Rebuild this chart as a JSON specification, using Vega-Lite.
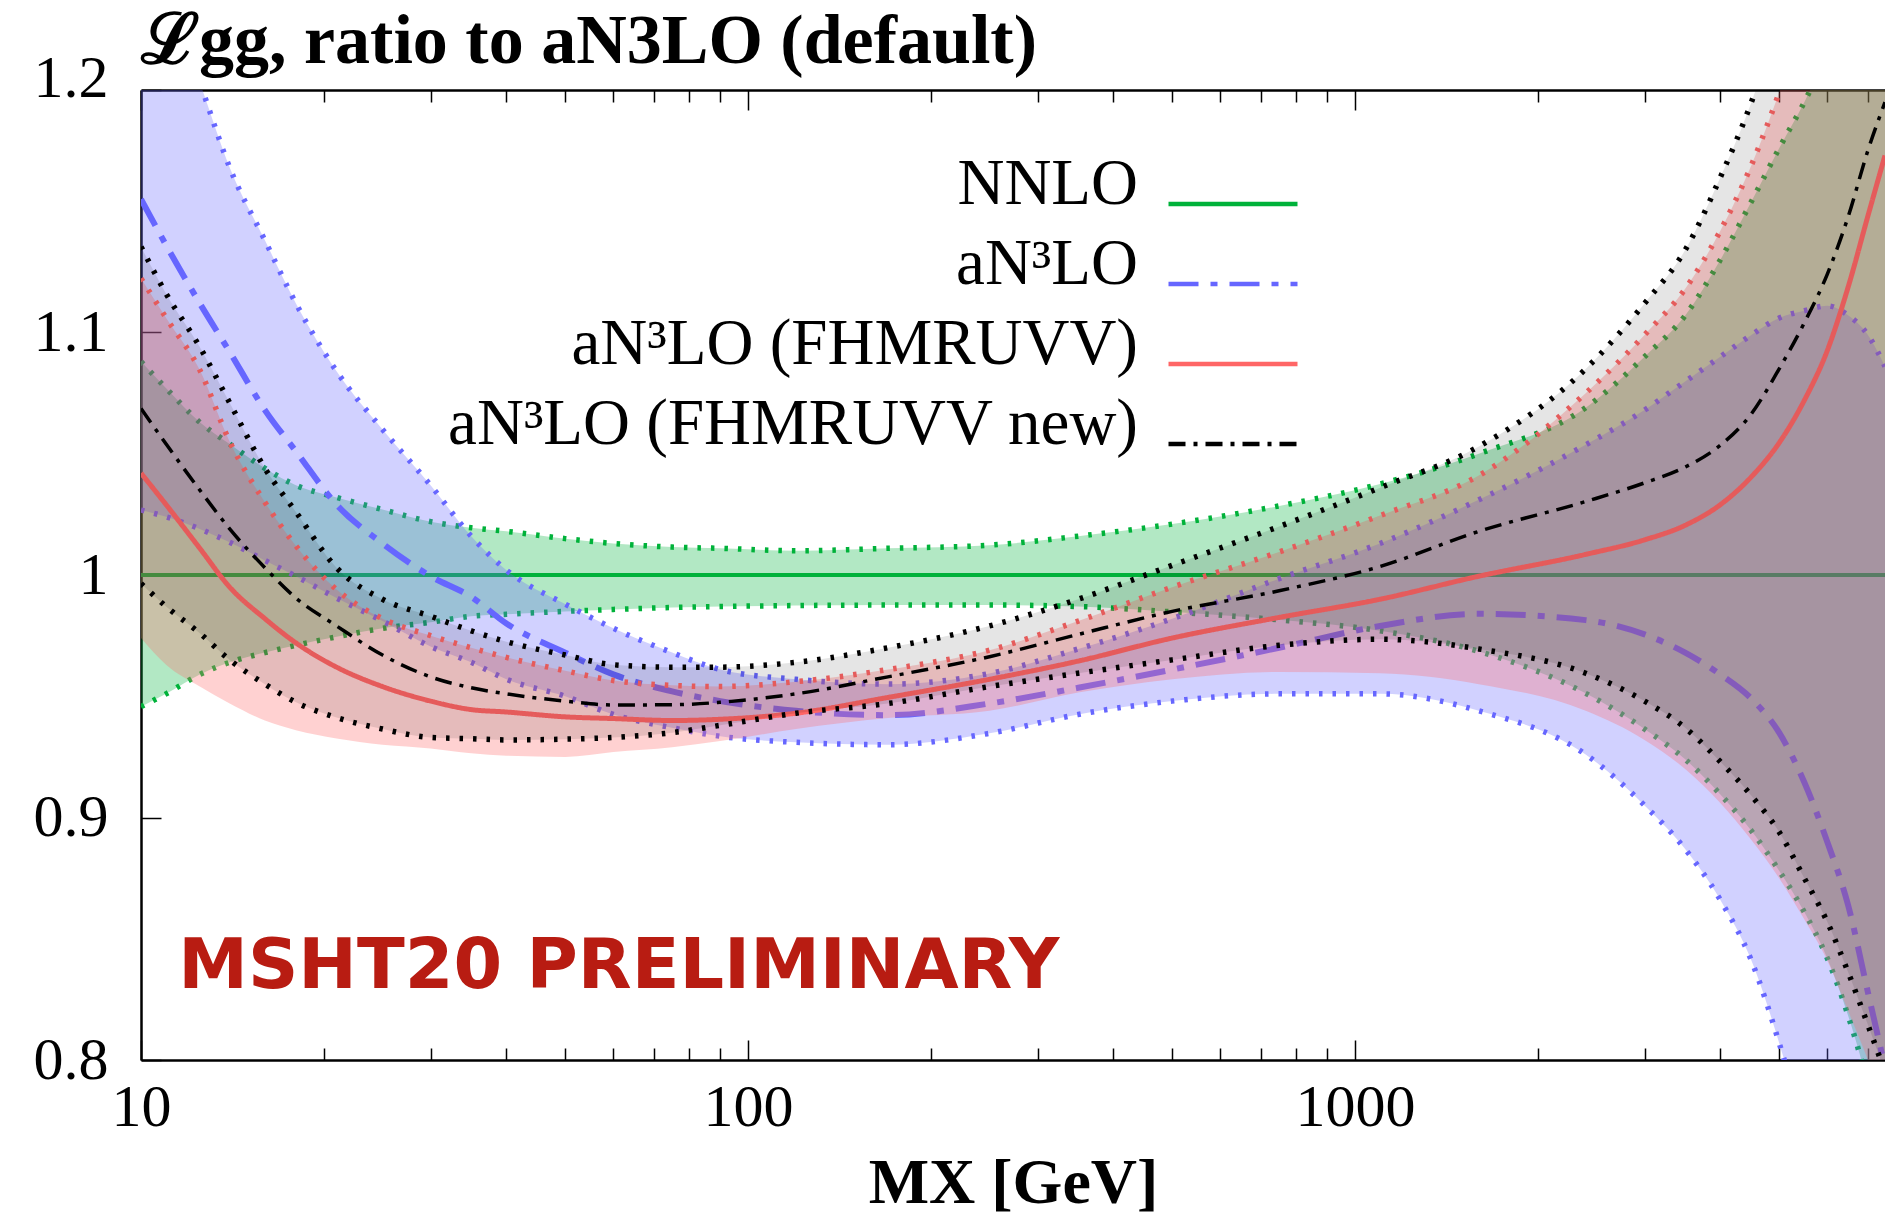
{
  "$schema": "https://vega.github.io/schema/vega-lite/v6.json",
  "autosize": {"type": "none"},
  "padding": {"left": 141, "top": 90, "right": 0, "bottom": 156},
  "width": 1744,
  "height": 970,
  "background": "white",
  "title": {"text": "ℒgg, ratio to aN3LO (default)", "anchor": "start", "frame": "group", "font": "Liberation Serif", "fontSize": 70, "fontWeight": "bold", "color": "black", "baseline": "alphabetic", "offset": -85},
  "config": {"view": {"stroke": null}, "axis": {"grid": false}},
  "datasets": {
    "d": [
      {"s":"NNLO","M":10,"c":1,"hi":1.088,"lo":0.9457},
      {"s":"NNLO","M":11,"c":1,"hi":1.077,"lo":0.951},
      {"s":"NNLO","M":12.5,"c":1,"hi":1.063,"lo":0.959},
      {"s":"NNLO","M":14,"c":1,"hi":1.054,"lo":0.964},
      {"s":"NNLO","M":16,"c":1,"hi":1.044,"lo":0.968},
      {"s":"NNLO","M":18,"c":1,"hi":1.037,"lo":0.971},
      {"s":"NNLO","M":21,"c":1,"hi":1.032,"lo":0.9745},
      {"s":"NNLO","M":25,"c":1,"hi":1.027,"lo":0.978},
      {"s":"NNLO","M":30,"c":1,"hi":1.022,"lo":0.9805},
      {"s":"NNLO","M":35,"c":1,"hi":1.0195,"lo":0.983},
      {"s":"NNLO","M":40,"c":1,"hi":1.018,"lo":0.9838},
      {"s":"NNLO","M":50,"c":1,"hi":1.015,"lo":0.985},
      {"s":"NNLO","M":60,"c":1,"hi":1.013,"lo":0.9858},
      {"s":"NNLO","M":75,"c":1,"hi":1.0115,"lo":0.9866},
      {"s":"NNLO","M":90,"c":1,"hi":1.011,"lo":0.987},
      {"s":"NNLO","M":120,"c":1,"hi":1.010,"lo":0.9874},
      {"s":"NNLO","M":170,"c":1,"hi":1.011,"lo":0.9876},
      {"s":"NNLO","M":250,"c":1,"hi":1.0123,"lo":0.9876},
      {"s":"NNLO","M":350,"c":1,"hi":1.016,"lo":0.987},
      {"s":"NNLO","M":500,"c":1,"hi":1.021,"lo":0.9848},
      {"s":"NNLO","M":750,"c":1,"hi":1.0285,"lo":0.9815},
      {"s":"NNLO","M":1100,"c":1,"hi":1.0375,"lo":0.977},
      {"s":"NNLO","M":1600,"c":1,"hi":1.050,"lo":0.9685},
      {"s":"NNLO","M":2400,"c":1,"hi":1.069,"lo":0.9512},
      {"s":"NNLO","M":3000,"c":1,"hi":1.090,"lo":0.9365},
      {"s":"NNLO","M":3500,"c":1,"hi":1.107,"lo":0.924},
      {"s":"NNLO","M":4000,"c":1,"hi":1.130,"lo":0.9095},
      {"s":"NNLO","M":4500,"c":1,"hi":1.154,"lo":0.8945},
      {"s":"NNLO","M":5000,"c":1,"hi":1.176,"lo":0.878},
      {"s":"NNLO","M":5500,"c":1,"hi":1.195,"lo":0.861},
      {"s":"NNLO","M":6000,"c":1,"hi":1.215,"lo":0.842},
      {"s":"NNLO","M":6500,"c":1,"hi":1.235,"lo":0.818},
      {"s":"NNLO","M":7000,"c":1,"hi":1.255,"lo":0.79},
      {"s":"NNLO","M":7470,"c":1,"hi":1.275,"lo":0.76},

      {"s":"aN³LO","M":10,"c":1.155,"hi":1.27,"lo":1.0268},
      {"s":"aN³LO","M":11,"c":1.136,"hi":1.24,"lo":1.024},
      {"s":"aN³LO","M":12.5,"c":1.112,"hi":1.203,"lo":1.019},
      {"s":"aN³LO","M":14,"c":1.092,"hi":1.168,"lo":1.0135},
      {"s":"aN³LO","M":16,"c":1.068,"hi":1.138,"lo":1.006},
      {"s":"aN³LO","M":18,"c":1.051,"hi":1.112,"lo":0.9995},
      {"s":"aN³LO","M":21,"c":1.029,"hi":1.084,"lo":0.9905},
      {"s":"aN³LO","M":25,"c":1.013,"hi":1.060,"lo":0.981},
      {"s":"aN³LO","M":30,"c":0.9995,"hi":1.037,"lo":0.9705},
      {"s":"aN³LO","M":35,"c":0.991,"hi":1.016,"lo":0.964},
      {"s":"aN³LO","M":40,"c":0.980,"hi":1.002,"lo":0.957},
      {"s":"aN³LO","M":50,"c":0.968,"hi":0.988,"lo":0.950},
      {"s":"aN³LO","M":60,"c":0.959,"hi":0.978,"lo":0.9425},
      {"s":"aN³LO","M":75,"c":0.952,"hi":0.968,"lo":0.937},
      {"s":"aN³LO","M":90,"c":0.948,"hi":0.961,"lo":0.9335},
      {"s":"aN³LO","M":120,"c":0.944,"hi":0.957,"lo":0.931},
      {"s":"aN³LO","M":170,"c":0.9422,"hi":0.955,"lo":0.930},
      {"s":"aN³LO","M":250,"c":0.947,"hi":0.9594,"lo":0.9347},
      {"s":"aN³LO","M":350,"c":0.9535,"hi":0.9695,"lo":0.9425},
      {"s":"aN³LO","M":500,"c":0.961,"hi":0.982,"lo":0.948},
      {"s":"aN³LO","M":750,"c":0.970,"hi":0.9985,"lo":0.951},
      {"s":"aN³LO","M":1100,"c":0.979,"hi":1.013,"lo":0.951},
      {"s":"aN³LO","M":1600,"c":0.984,"hi":1.031,"lo":0.944},
      {"s":"aN³LO","M":2400,"c":0.9814,"hi":1.0537,"lo":0.926},
      {"s":"aN³LO","M":3000,"c":0.9755,"hi":1.068,"lo":0.905},
      {"s":"aN³LO","M":3500,"c":0.968,"hi":1.0798,"lo":0.887},
      {"s":"aN³LO","M":4000,"c":0.959,"hi":1.090,"lo":0.866},
      {"s":"aN³LO","M":4500,"c":0.949,"hi":1.099,"lo":0.841},
      {"s":"aN³LO","M":5000,"c":0.935,"hi":1.106,"lo":0.807},
      {"s":"aN³LO","M":5500,"c":0.9145,"hi":1.109,"lo":0.77},
      {"s":"aN³LO","M":6000,"c":0.890,"hi":1.111,"lo":0.73},
      {"s":"aN³LO","M":6500,"c":0.8635,"hi":1.107,"lo":0.69},
      {"s":"aN³LO","M":7000,"c":0.828,"hi":1.099,"lo":0.65},
      {"s":"aN³LO","M":7470,"c":0.797,"hi":1.086,"lo":0.61},

      {"s":"aN³LO (FHMRUVV)","M":10,"c":1.042,"hi":1.1223,"lo":0.974},
      {"s":"aN³LO (FHMRUVV)","M":11,"c":1.029,"hi":1.106,"lo":0.963},
      {"s":"aN³LO (FHMRUVV)","M":12.5,"c":1.011,"hi":1.0845,"lo":0.954},
      {"s":"aN³LO (FHMRUVV)","M":14,"c":0.995,"hi":1.055,"lo":0.947},
      {"s":"aN³LO (FHMRUVV)","M":16,"c":0.982,"hi":1.030,"lo":0.940},
      {"s":"aN³LO (FHMRUVV)","M":18,"c":0.972,"hi":1.012,"lo":0.936},
      {"s":"aN³LO (FHMRUVV)","M":21,"c":0.962,"hi":0.994,"lo":0.9326},
      {"s":"aN³LO (FHMRUVV)","M":25,"c":0.954,"hi":0.982,"lo":0.930},
      {"s":"aN³LO (FHMRUVV)","M":30,"c":0.948,"hi":0.975,"lo":0.9285},
      {"s":"aN³LO (FHMRUVV)","M":35,"c":0.9445,"hi":0.970,"lo":0.9265},
      {"s":"aN³LO (FHMRUVV)","M":40,"c":0.9435,"hi":0.966,"lo":0.9255},
      {"s":"aN³LO (FHMRUVV)","M":50,"c":0.9415,"hi":0.9605,"lo":0.925},
      {"s":"aN³LO (FHMRUVV)","M":60,"c":0.9408,"hi":0.9565,"lo":0.927},
      {"s":"aN³LO (FHMRUVV)","M":75,"c":0.940,"hi":0.9545,"lo":0.929},
      {"s":"aN³LO (FHMRUVV)","M":90,"c":0.9405,"hi":0.954,"lo":0.9315},
      {"s":"aN³LO (FHMRUVV)","M":120,"c":0.943,"hi":0.956,"lo":0.9365},
      {"s":"aN³LO (FHMRUVV)","M":170,"c":0.9495,"hi":0.961,"lo":0.941},
      {"s":"aN³LO (FHMRUVV)","M":250,"c":0.957,"hi":0.969,"lo":0.944},
      {"s":"aN³LO (FHMRUVV)","M":350,"c":0.9645,"hi":0.981,"lo":0.9515},
      {"s":"aN³LO (FHMRUVV)","M":500,"c":0.974,"hi":0.995,"lo":0.957},
      {"s":"aN³LO (FHMRUVV)","M":750,"c":0.9825,"hi":1.0095,"lo":0.960},
      {"s":"aN³LO (FHMRUVV)","M":1100,"c":0.990,"hi":1.0245,"lo":0.9595},
      {"s":"aN³LO (FHMRUVV)","M":1600,"c":0.9995,"hi":1.041,"lo":0.955},
      {"s":"aN³LO (FHMRUVV)","M":2400,"c":1.0085,"hi":1.075,"lo":0.944},
      {"s":"aN³LO (FHMRUVV)","M":3000,"c":1.0145,"hi":1.099,"lo":0.932},
      {"s":"aN³LO (FHMRUVV)","M":3500,"c":1.0205,"hi":1.118,"lo":0.920},
      {"s":"aN³LO (FHMRUVV)","M":4000,"c":1.029,"hi":1.142,"lo":0.906},
      {"s":"aN³LO (FHMRUVV)","M":4500,"c":1.0405,"hi":1.169,"lo":0.8907},
      {"s":"aN³LO (FHMRUVV)","M":5000,"c":1.0545,"hi":1.199,"lo":0.875},
      {"s":"aN³LO (FHMRUVV)","M":5500,"c":1.072,"hi":1.23,"lo":0.858},
      {"s":"aN³LO (FHMRUVV)","M":6000,"c":1.0925,"hi":1.265,"lo":0.841},
      {"s":"aN³LO (FHMRUVV)","M":6500,"c":1.119,"hi":1.30,"lo":0.82},
      {"s":"aN³LO (FHMRUVV)","M":7000,"c":1.148,"hi":1.34,"lo":0.80},
      {"s":"aN³LO (FHMRUVV)","M":7470,"c":1.173,"hi":1.38,"lo":0.78},

      {"s":"aN³LO (FHMRUVV new)","M":10,"c":1.0687,"hi":1.1354,"lo":0.9965},
      {"s":"aN³LO (FHMRUVV new)","M":11,"c":1.054,"hi":1.116,"lo":0.987},
      {"s":"aN³LO (FHMRUVV new)","M":12.5,"c":1.035,"hi":1.094,"lo":0.976},
      {"s":"aN³LO (FHMRUVV new)","M":14,"c":1.019,"hi":1.071,"lo":0.965},
      {"s":"aN³LO (FHMRUVV new)","M":16,"c":1.003,"hi":1.044,"lo":0.955},
      {"s":"aN³LO (FHMRUVV new)","M":18,"c":0.9905,"hi":1.026,"lo":0.9475},
      {"s":"aN³LO (FHMRUVV new)","M":21,"c":0.979,"hi":1.003,"lo":0.9412},
      {"s":"aN³LO (FHMRUVV new)","M":25,"c":0.967,"hi":0.990,"lo":0.9365},
      {"s":"aN³LO (FHMRUVV new)","M":30,"c":0.958,"hi":0.983,"lo":0.933},
      {"s":"aN³LO (FHMRUVV new)","M":35,"c":0.9535,"hi":0.977,"lo":0.9325},
      {"s":"aN³LO (FHMRUVV new)","M":40,"c":0.951,"hi":0.9725,"lo":0.932},
      {"s":"aN³LO (FHMRUVV new)","M":50,"c":0.948,"hi":0.967,"lo":0.9323},
      {"s":"aN³LO (FHMRUVV new)","M":60,"c":0.9464,"hi":0.963,"lo":0.933},
      {"s":"aN³LO (FHMRUVV new)","M":75,"c":0.9465,"hi":0.962,"lo":0.935},
      {"s":"aN³LO (FHMRUVV new)","M":90,"c":0.9475,"hi":0.962,"lo":0.938},
      {"s":"aN³LO (FHMRUVV new)","M":120,"c":0.951,"hi":0.964,"lo":0.943},
      {"s":"aN³LO (FHMRUVV new)","M":170,"c":0.958,"hi":0.970,"lo":0.947},
      {"s":"aN³LO (FHMRUVV new)","M":250,"c":0.9663,"hi":0.979,"lo":0.954},
      {"s":"aN³LO (FHMRUVV new)","M":350,"c":0.9755,"hi":0.990,"lo":0.9595},
      {"s":"aN³LO (FHMRUVV new)","M":500,"c":0.985,"hi":1.004,"lo":0.965},
      {"s":"aN³LO (FHMRUVV new)","M":750,"c":0.9935,"hi":1.020,"lo":0.971},
      {"s":"aN³LO (FHMRUVV new)","M":1100,"c":1.0035,"hi":1.036,"lo":0.9735},
      {"s":"aN³LO (FHMRUVV new)","M":1600,"c":1.018,"hi":1.053,"lo":0.9695},
      {"s":"aN³LO (FHMRUVV new)","M":2400,"c":1.0303,"hi":1.085,"lo":0.9595},
      {"s":"aN³LO (FHMRUVV new)","M":3000,"c":1.038,"hi":1.112,"lo":0.948},
      {"s":"aN³LO (FHMRUVV new)","M":3500,"c":1.0445,"hi":1.134,"lo":0.937},
      {"s":"aN³LO (FHMRUVV new)","M":4000,"c":1.0535,"hi":1.164,"lo":0.923},
      {"s":"aN³LO (FHMRUVV new)","M":4500,"c":1.0665,"hi":1.195,"lo":0.909},
      {"s":"aN³LO (FHMRUVV new)","M":5000,"c":1.085,"hi":1.23,"lo":0.894},
      {"s":"aN³LO (FHMRUVV new)","M":5500,"c":1.104,"hi":1.27,"lo":0.875},
      {"s":"aN³LO (FHMRUVV new)","M":6000,"c":1.124,"hi":1.31,"lo":0.857},
      {"s":"aN³LO (FHMRUVV new)","M":6500,"c":1.148,"hi":1.35,"lo":0.836},
      {"s":"aN³LO (FHMRUVV new)","M":7000,"c":1.175,"hi":1.39,"lo":0.8145},
      {"s":"aN³LO (FHMRUVV new)","M":7470,"c":1.195,"hi":1.43,"lo":0.795}
    ],
    "ann": [{"M": 11.52, "v": 0.8297, "t": "MSHT20 PRELIMINARY"}]
  },
  "data": {"name": "d"},
  "encoding": {
    "x": {"field": "M", "type": "quantitative", "scale": {"type": "log", "domain": [10, 7470], "nice": false}, "axis": null}
  },
  "layer": [
    {
      "transform": [{"filter": "datum.s == 'NNLO'"}],
      "mark": {"type": "area", "color": "#00b23a", "fillOpacity": 0.3, "clip": true, "interpolate": "monotone"},
      "encoding": {
        "x": {"field": "M", "type": "quantitative", "scale": {"type": "log", "domain": [10, 7470], "nice": false},
          "axis": {"orient": "bottom", "values": [10,20,30,40,50,60,70,80,90,100,200,300,400,500,600,700,800,900,1000,2000,3000,4000,5000,6000,7000],
            "format": "d",
            "labelExpr": "(datum.value == 10 || datum.value == 100 || datum.value == 1000) ? datum.label : ''",
            "tickSize": {"condition": {"test": "datum.value == 10 || datum.value == 100 || datum.value == 1000", "value": -20}, "value": -12},
            "tickColor": "black", "tickWidth": 1.5, "domainColor": "black", "domainWidth": 2.5,
            "labelFont": "Liberation Serif", "labelFontSize": 60, "labelColor": "black", "labelPadding": 38,
            "labelOverlap": false, "labelFlush": false, "grid": false,
            "title": "MX [GeV]", "titleFont": "Liberation Serif", "titleFontSize": 64, "titleFontWeight": "bold", "titleColor": "black",
            "titleY": 142, "titleBaseline": "alphabetic"}},
        "y": {"field": "lo", "type": "quantitative", "scale": {"domain": [0.8, 1.2], "nice": false, "zero": false},
          "axis": {"orient": "left", "values": [0.8, 0.9, 1, 1.1, 1.2], "format": ".1~f", "tickSize": -20, "tickColor": "black", "tickWidth": 1.5,
            "domainColor": "black", "domainWidth": 2.5, "labelFont": "Liberation Serif", "labelFontSize": 60, "labelColor": "black",
            "labelOffset": {"condition": {"test": "datum.value == 1.2", "value": -12}, "value": 0},
            "labelPadding": 53, "labelOverlap": false, "labelFlush": false, "grid": false, "title": null}},
        "y2": {"field": "hi"}
      }
    },
    {
      "transform": [{"filter": "datum.s == 'NNLO'"}],
      "mark": {"type": "line", "color": "#00b23a", "strokeWidth": 5.5, "strokeDash": [3.5, 10], "clip": true, "interpolate": "monotone"},
      "encoding": {"y": {"field": "hi", "type": "quantitative", "scale": {"domain": [0.8, 1.2], "nice": false, "zero": false}, "axis": null}}
    },
    {
      "transform": [{"filter": "datum.s == 'NNLO'"}],
      "mark": {"type": "line", "color": "#00b23a", "strokeWidth": 5.5, "strokeDash": [3.5, 10], "clip": true, "interpolate": "monotone"},
      "encoding": {"y": {"field": "lo", "type": "quantitative", "scale": {"domain": [0.8, 1.2], "nice": false, "zero": false}, "axis": null}}
    },
    {
      "transform": [{"filter": "datum.s == 'NNLO'"}],
      "mark": {"type": "line", "strokeWidth": 4, "clip": true, "interpolate": "monotone"},
      "encoding": {
        "y": {"field": "c", "type": "quantitative", "scale": {"domain": [0.8, 1.2], "nice": false, "zero": false}, "axis": null},
        "color": {"field": "s", "type": "nominal",
          "scale": {"domain": ["NNLO", "aN³LO", "aN³LO (FHMRUVV)", "aN³LO (FHMRUVV new)"], "range": ["#00b23a", "#6666ff", "#ff6666", "#000000"]},
          "legend": {"orient": "none", "legendX": 1025, "legendY": 47, "title": null, "labelFont": "Liberation Serif", "labelFontSize": 65, "labelColor": "black",
            "labelAlign": "right", "labelBaseline": "alphabetic", "labelOffset": -162, "labelLimit": 2000, "symbolType": "stroke", "symbolSize": 16641, "symbolStrokeWidth": 4.5,
            "rowPadding": 0, "padding": 0, "offset": 0}},
        "strokeDash": {"field": "s", "type": "nominal",
          "scale": {"domain": ["NNLO", "aN³LO", "aN³LO (FHMRUVV)", "aN³LO (FHMRUVV new)"], "range": [[1, 0], [30, 12, 7, 12], [1, 0], [17, 8, 4, 8]]},
          "legend": {"orient": "none", "legendX": 1025, "legendY": 47, "title": null, "labelFont": "Liberation Serif", "labelFontSize": 65, "labelColor": "black",
            "labelAlign": "right", "labelBaseline": "alphabetic", "labelOffset": -162, "labelLimit": 2000, "symbolType": "stroke", "symbolSize": 16641, "symbolStrokeWidth": 4.5,
            "rowPadding": 0, "padding": 0, "offset": 0}}
      }
    },
    {
      "transform": [{"filter": "datum.s == 'aN³LO'"}],
      "mark": {"type": "area", "color": "#6666ff", "fillOpacity": 0.3, "clip": true, "interpolate": "monotone"},
      "encoding": {
        "y": {"field": "lo", "type": "quantitative", "scale": {"domain": [0.8, 1.2], "nice": false, "zero": false}, "axis": null},
        "y2": {"field": "hi"}
      }
    },
    {
      "transform": [{"filter": "datum.s == 'aN³LO'"}],
      "mark": {"type": "line", "color": "#6666ff", "strokeWidth": 5.5, "strokeDash": [3.5, 10], "clip": true, "interpolate": "monotone"},
      "encoding": {"y": {"field": "hi", "type": "quantitative", "scale": {"domain": [0.8, 1.2], "nice": false, "zero": false}, "axis": null}}
    },
    {
      "transform": [{"filter": "datum.s == 'aN³LO'"}],
      "mark": {"type": "line", "color": "#6666ff", "strokeWidth": 5.5, "strokeDash": [3.5, 10], "clip": true, "interpolate": "monotone"},
      "encoding": {"y": {"field": "lo", "type": "quantitative", "scale": {"domain": [0.8, 1.2], "nice": false, "zero": false}, "axis": null}}
    },
    {
      "transform": [{"filter": "datum.s == 'aN³LO'"}],
      "mark": {"type": "line", "strokeWidth": 6, "clip": true, "interpolate": "monotone"},
      "encoding": {
        "y": {"field": "c", "type": "quantitative", "scale": {"domain": [0.8, 1.2], "nice": false, "zero": false}, "axis": null},
        "color": {"field": "s", "type": "nominal",
          "scale": {"domain": ["NNLO", "aN³LO", "aN³LO (FHMRUVV)", "aN³LO (FHMRUVV new)"], "range": ["#00b23a", "#6666ff", "#ff6666", "#000000"]},
          "legend": {"orient": "none", "legendX": 1025, "legendY": 47, "title": null, "labelFont": "Liberation Serif", "labelFontSize": 65, "labelColor": "black",
            "labelAlign": "right", "labelBaseline": "alphabetic", "labelOffset": -162, "labelLimit": 2000, "symbolType": "stroke", "symbolSize": 16641, "symbolStrokeWidth": 4.5,
            "rowPadding": 0, "padding": 0, "offset": 0}},
        "strokeDash": {"field": "s", "type": "nominal",
          "scale": {"domain": ["NNLO", "aN³LO", "aN³LO (FHMRUVV)", "aN³LO (FHMRUVV new)"], "range": [[1, 0], [30, 12, 7, 12], [1, 0], [17, 8, 4, 8]]},
          "legend": {"orient": "none", "legendX": 1025, "legendY": 47, "title": null, "labelFont": "Liberation Serif", "labelFontSize": 65, "labelColor": "black",
            "labelAlign": "right", "labelBaseline": "alphabetic", "labelOffset": -162, "labelLimit": 2000, "symbolType": "stroke", "symbolSize": 16641, "symbolStrokeWidth": 4.5,
            "rowPadding": 0, "padding": 0, "offset": 0}}
      }
    },
    {
      "transform": [{"filter": "datum.s == 'aN³LO (FHMRUVV)'"}],
      "mark": {"type": "area", "color": "#ff6666", "fillOpacity": 0.3, "clip": true, "interpolate": "monotone"},
      "encoding": {
        "y": {"field": "lo", "type": "quantitative", "scale": {"domain": [0.8, 1.2], "nice": false, "zero": false}, "axis": null},
        "y2": {"field": "hi"}
      }
    },
    {
      "transform": [{"filter": "datum.s == 'aN³LO (FHMRUVV)'"}],
      "mark": {"type": "line", "color": "#ff6666", "strokeWidth": 5.5, "strokeDash": [3.5, 10], "clip": true, "interpolate": "monotone"},
      "encoding": {"y": {"field": "hi", "type": "quantitative", "scale": {"domain": [0.8, 1.2], "nice": false, "zero": false}, "axis": null}}
    },
    {
      "transform": [{"filter": "datum.s == 'aN³LO (FHMRUVV)'"}],
      "mark": {"type": "line", "strokeWidth": 5, "clip": true, "interpolate": "monotone"},
      "encoding": {
        "y": {"field": "c", "type": "quantitative", "scale": {"domain": [0.8, 1.2], "nice": false, "zero": false}, "axis": null},
        "color": {"field": "s", "type": "nominal",
          "scale": {"domain": ["NNLO", "aN³LO", "aN³LO (FHMRUVV)", "aN³LO (FHMRUVV new)"], "range": ["#00b23a", "#6666ff", "#ff6666", "#000000"]},
          "legend": {"orient": "none", "legendX": 1025, "legendY": 47, "title": null, "labelFont": "Liberation Serif", "labelFontSize": 65, "labelColor": "black",
            "labelAlign": "right", "labelBaseline": "alphabetic", "labelOffset": -162, "labelLimit": 2000, "symbolType": "stroke", "symbolSize": 16641, "symbolStrokeWidth": 4.5,
            "rowPadding": 0, "padding": 0, "offset": 0}},
        "strokeDash": {"field": "s", "type": "nominal",
          "scale": {"domain": ["NNLO", "aN³LO", "aN³LO (FHMRUVV)", "aN³LO (FHMRUVV new)"], "range": [[1, 0], [30, 12, 7, 12], [1, 0], [17, 8, 4, 8]]},
          "legend": {"orient": "none", "legendX": 1025, "legendY": 47, "title": null, "labelFont": "Liberation Serif", "labelFontSize": 65, "labelColor": "black",
            "labelAlign": "right", "labelBaseline": "alphabetic", "labelOffset": -162, "labelLimit": 2000, "symbolType": "stroke", "symbolSize": 16641, "symbolStrokeWidth": 4.5,
            "rowPadding": 0, "padding": 0, "offset": 0}}
      }
    },
    {
      "transform": [{"filter": "datum.s == 'aN³LO (FHMRUVV new)'"}],
      "mark": {"type": "area", "color": "#000000", "fillOpacity": 0.1, "clip": true, "interpolate": "monotone"},
      "encoding": {
        "y": {"field": "lo", "type": "quantitative", "scale": {"domain": [0.8, 1.2], "nice": false, "zero": false}, "axis": null},
        "y2": {"field": "hi"}
      }
    },
    {
      "transform": [{"filter": "datum.s == 'aN³LO (FHMRUVV new)'"}],
      "mark": {"type": "line", "color": "#000000", "strokeWidth": 5.5, "strokeDash": [3.5, 10], "clip": true, "interpolate": "monotone"},
      "encoding": {"y": {"field": "hi", "type": "quantitative", "scale": {"domain": [0.8, 1.2], "nice": false, "zero": false}, "axis": null}}
    },
    {
      "transform": [{"filter": "datum.s == 'aN³LO (FHMRUVV new)'"}],
      "mark": {"type": "line", "color": "#000000", "strokeWidth": 5.5, "strokeDash": [3.5, 10], "clip": true, "interpolate": "monotone"},
      "encoding": {"y": {"field": "lo", "type": "quantitative", "scale": {"domain": [0.8, 1.2], "nice": false, "zero": false}, "axis": null}}
    },
    {
      "transform": [{"filter": "datum.s == 'aN³LO (FHMRUVV new)'"}],
      "mark": {"type": "line", "strokeWidth": 3.5, "clip": true, "interpolate": "monotone"},
      "encoding": {
        "y": {"field": "c", "type": "quantitative", "scale": {"domain": [0.8, 1.2], "nice": false, "zero": false}, "axis": null},
        "color": {"field": "s", "type": "nominal",
          "scale": {"domain": ["NNLO", "aN³LO", "aN³LO (FHMRUVV)", "aN³LO (FHMRUVV new)"], "range": ["#00b23a", "#6666ff", "#ff6666", "#000000"]},
          "legend": {"orient": "none", "legendX": 1025, "legendY": 47, "title": null, "labelFont": "Liberation Serif", "labelFontSize": 65, "labelColor": "black",
            "labelAlign": "right", "labelBaseline": "alphabetic", "labelOffset": -162, "labelLimit": 2000, "symbolType": "stroke", "symbolSize": 16641, "symbolStrokeWidth": 4.5,
            "rowPadding": 0, "padding": 0, "offset": 0}},
        "strokeDash": {"field": "s", "type": "nominal",
          "scale": {"domain": ["NNLO", "aN³LO", "aN³LO (FHMRUVV)", "aN³LO (FHMRUVV new)"], "range": [[1, 0], [30, 12, 7, 12], [1, 0], [17, 8, 4, 8]]},
          "legend": {"orient": "none", "legendX": 1025, "legendY": 47, "title": null, "labelFont": "Liberation Serif", "labelFontSize": 65, "labelColor": "black",
            "labelAlign": "right", "labelBaseline": "alphabetic", "labelOffset": -162, "labelLimit": 2000, "symbolType": "stroke", "symbolSize": 16641, "symbolStrokeWidth": 4.5,
            "rowPadding": 0, "padding": 0, "offset": 0}}
      }
    },
    {
      "data": {"name": "ann"},
      "mark": {"type": "text", "align": "left", "baseline": "alphabetic", "font": "DejaVu Sans", "fontWeight": "bold", "fontSize": 70, "color": "#b81c12"},
      "encoding": {
        "x": {"field": "M", "type": "quantitative", "scale": {"type": "log", "domain": [10, 7470], "nice": false},
          "axis": {"orient": "top", "values": [10,20,30,40,50,60,70,80,90,100,200,300,400,500,600,700,800,900,1000,2000,3000,4000,5000,6000,7000],
            "labels": false,
            "tickSize": {"condition": {"test": "datum.value == 10 || datum.value == 100 || datum.value == 1000", "value": -20}, "value": -12},
            "tickColor": "black", "tickWidth": 1.5, "domainColor": "black", "domainWidth": 2.5, "grid": false, "title": null}},
        "y": {"field": "v", "type": "quantitative", "scale": {"domain": [0.8, 1.2], "nice": false, "zero": false}, "axis": null},
        "text": {"field": "t"}
      }
    }
  ],
  "resolve": {"axis": {"x": "independent", "y": "independent"}}
}
